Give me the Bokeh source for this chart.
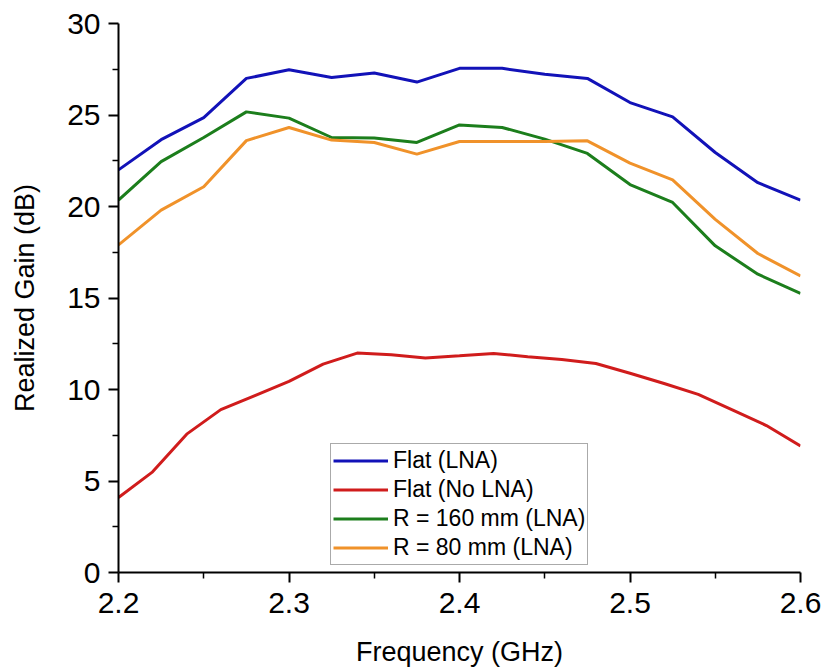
from bokeh.plotting import figure
from bokeh.models import Range1d, FixedTicker, PrintfTickFormatter, Legend, LegendItem
from bokeh.embed import file_html
from bokeh.resources import INLINE

freq = [2.2, 2.225, 2.25, 2.275, 2.3, 2.325, 2.35, 2.375, 2.4, 2.425, 2.45, 2.475, 2.5, 2.525, 2.55, 2.575, 2.6]
flat_lna = [22.0, 23.65, 24.86, 27.0, 27.47, 27.05, 27.3, 26.8, 27.55, 27.55, 27.23, 27.0, 25.68, 24.9, 22.95, 21.3, 20.35]
r160_lna = [20.35, 22.45, 23.77, 25.17, 24.83, 23.77, 23.74, 23.5, 24.46, 24.32, 23.68, 22.9, 21.2, 20.22, 17.85, 16.3, 15.25]
r80_lna = [17.9, 19.8, 21.08, 23.6, 24.32, 23.63, 23.5, 22.86, 23.55, 23.55, 23.55, 23.59, 22.37, 21.46, 19.3, 17.43, 16.2]

freq_nolna = [2.2, 2.22, 2.24, 2.26, 2.28, 2.3, 2.32, 2.34, 2.36, 2.38, 2.4, 2.42, 2.44, 2.46, 2.48, 2.5, 2.52, 2.54, 2.56, 2.58, 2.6]
flat_nolna = [4.1, 5.5, 7.56, 8.9, 9.67, 10.44, 11.39, 11.99, 11.9, 11.72, 11.84, 11.97, 11.79, 11.64, 11.42, 10.89, 10.33, 9.73, 8.89, 8.03, 6.92]

labels = ["Flat (LNA)", "Flat (No LNA)", "R = 160 mm (LNA)", "R = 80 mm (LNA)"]
colors = ["#1212b8", "#d01c1c", "#1c7e1c", "#f0922a"]

x_ticks = [2.2, 2.3, 2.4, 2.5, 2.6]
x_minor = [2.25, 2.35, 2.45, 2.55]
y_ticks = [0, 5, 10, 15, 20, 25, 30]
y_minor = [2.5, 7.5, 12.5, 17.5, 22.5, 27.5]

FONT = "Liberation Sans"

p = figure(width=826, height=670, output_backend="svg", toolbar_location=None,
           x_range=Range1d(2.2, 2.6), y_range=Range1d(0, 30),
           min_border_left=118, min_border_right=26, min_border_top=23, min_border_bottom=98)
p.outline_line_color = None
p.xgrid.visible = False
p.ygrid.visible = False
p.background_fill_color = "white"
p.border_fill_color = "white"

r1 = p.line(freq, flat_lna, line_color=colors[0], line_width=3)
r2 = p.line(freq_nolna, flat_nolna, line_color=colors[1], line_width=3)
r3 = p.line(freq, r160_lna, line_color=colors[2], line_width=3)
r4 = p.line(freq, r80_lna, line_color=colors[3], line_width=3)

for ax, ticks, minor, fmt in ((p.xaxis[0], x_ticks, x_minor, "%.1f"), (p.yaxis[0], y_ticks, y_minor, "%d")):
    ax.ticker = FixedTicker(ticks=ticks, minor_ticks=minor)
    ax.formatter = PrintfTickFormatter(format=fmt)
    ax.axis_line_color = "black"
    ax.axis_line_width = 2
    ax.major_tick_line_color = "black"
    ax.major_tick_line_width = 2
    ax.major_tick_out = 10
    ax.major_tick_in = 0
    ax.minor_tick_line_color = "black"
    ax.minor_tick_line_width = 1.5
    ax.minor_tick_out = 6
    ax.minor_tick_in = 0
    ax.major_label_text_font = FONT
    ax.major_label_text_font_size = "30px"
    ax.major_label_text_color = "black"
    ax.axis_label_text_font = FONT
    ax.axis_label_text_font_size = "27px"
    ax.axis_label_text_font_style = "normal"
    ax.axis_label_text_color = "black"

p.xaxis.axis_label = "Frequency (GHz)"
p.yaxis.axis_label = "Realized Gain (dB)"
p.xaxis.major_label_standoff = 10
p.yaxis.major_label_standoff = 8
p.xaxis.axis_label_standoff = 21
p.yaxis.axis_label_standoff = 24

legend = Legend(items=[LegendItem(label=labels[i], renderers=[r]) for i, r in enumerate([r1, r2, r3, r4])],
                location=(212, 7))
legend.label_text_font = FONT
legend.label_text_font_size = "23px"
legend.label_text_color = "black"
legend.glyph_width = 55
legend.glyph_height = 29
legend.label_height = 29
legend.label_standoff = 5
legend.spacing = 0
legend.padding = 2
legend.margin = 0
legend.border_line_color = "#555555"
legend.border_line_width = 1.5
legend.background_fill_alpha = 1.0
p.add_layout(legend)

open("out.html", "w").write(file_html(p, INLINE))
